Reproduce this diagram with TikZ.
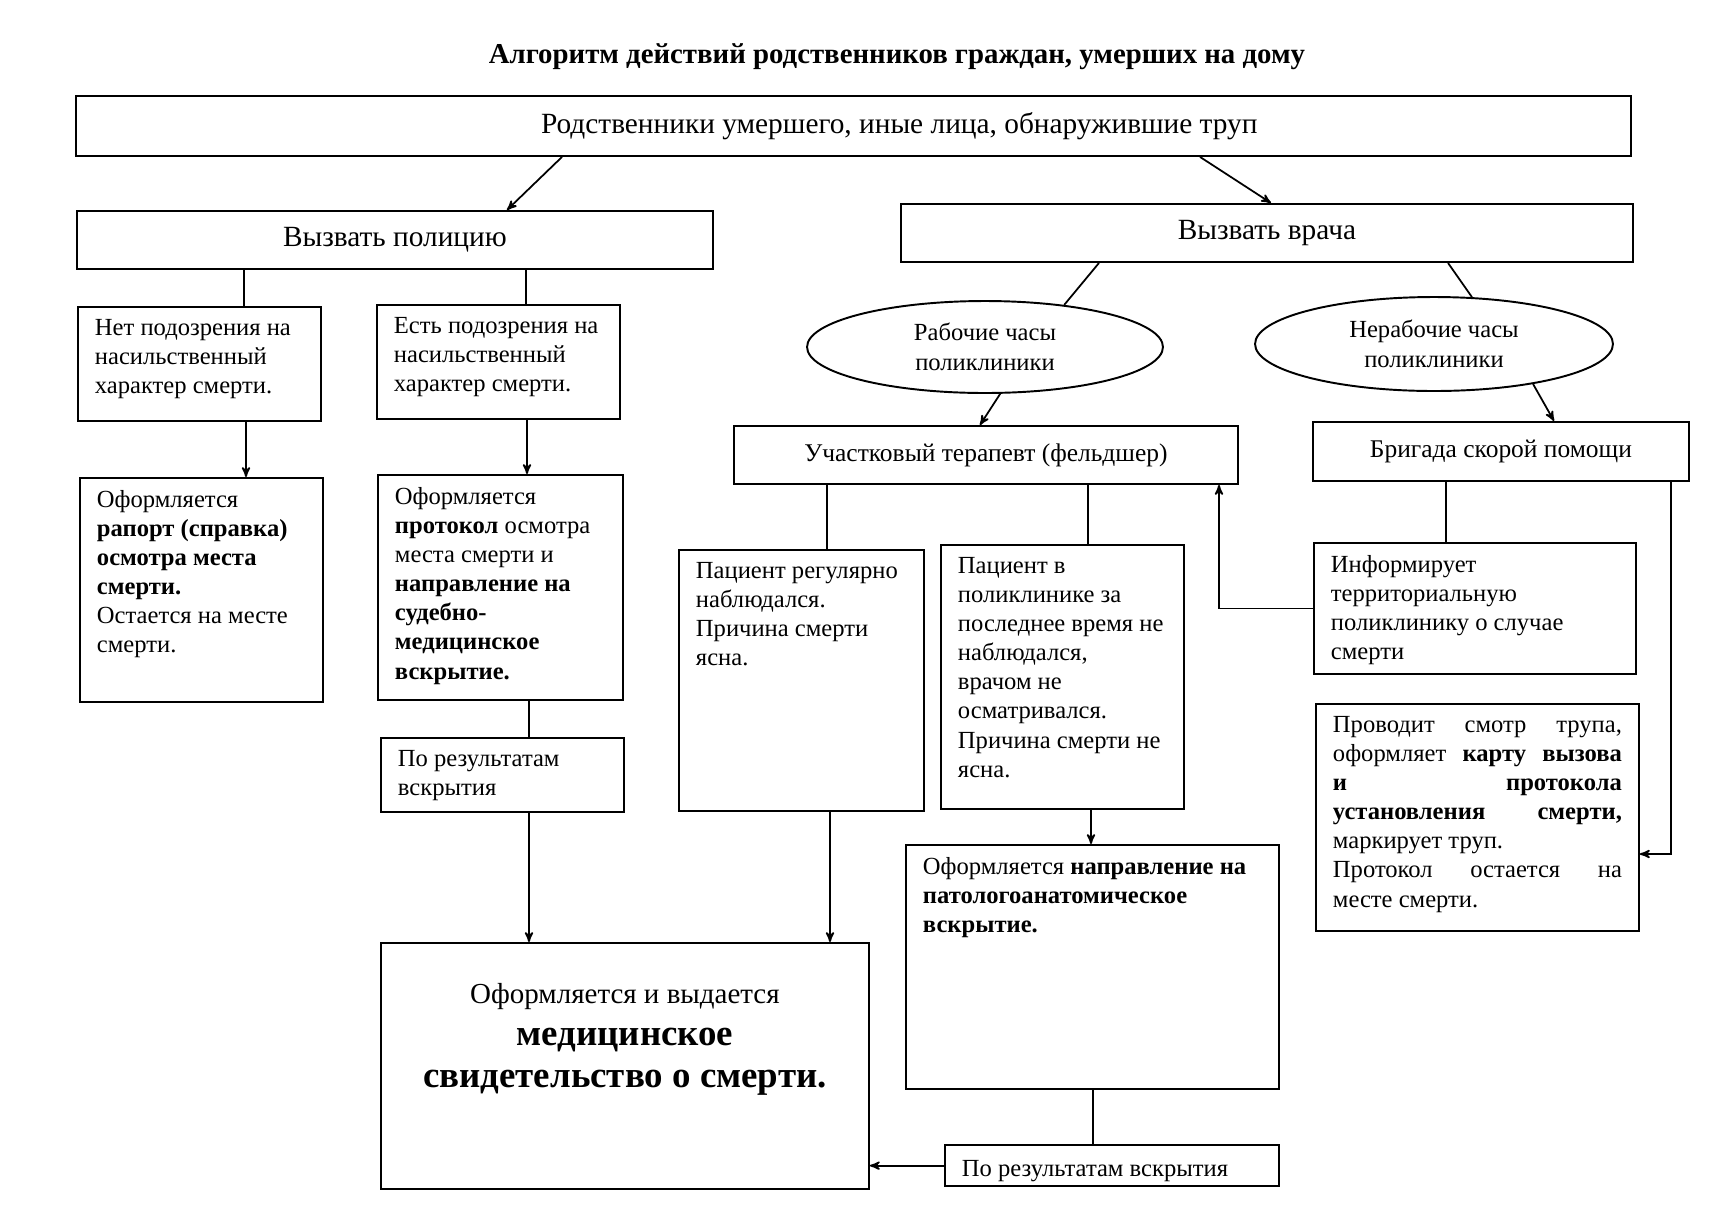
\documentclass[tikz,border=0pt]{standalone}
\usepackage{fontspec}
\setmainfont{Liberation Serif}
\usetikzlibrary{shapes}
\usetikzlibrary{arrows}

\newcommand{\boxtext}[3]{\parbox[c][#1][t]{#2}{#3}}

\begin{document}
\begin{tikzpicture}[x=0.02cm, y=-0.02cm,
  box/.style={draw, line width=1.1pt, rectangle, anchor=north west, inner xsep=0.34cm, inner ysep=0.24cm, font=\fontsize{14}{16.6}\selectfont},
  head/.style={draw, line width=1.1pt, rectangle, anchor=north west, inner sep=0pt, font=\fontsize{16.7}{19}\selectfont},
  hours/.style={draw, line width=1.1pt, ellipse, inner sep=0pt, align=center, font=\fontsize{14}{16.8}\selectfont},
  conn/.style={line width=1pt},
  arr/.style={line width=1pt, ->}]
  \tikzset{>=stealth'}

  \useasboundingbox (0,0) rectangle (1710,1208);

  %% title and top level
  \node[font=\fontsize{16.4}{19}\selectfont\bfseries] (title) at (897,57) {Алгоритм действий родственников граждан, умерших на дому};
  \node[head, minimum width=31.1cm, minimum height=1.2cm] (finders) at (75,95) {\hspace*{1.84cm}Родственники умершего, иные лица, обнаружившие труп};
  \node[head, minimum width=12.72cm, minimum height=1.16cm] (police) at (76,210) {Вызвать полицию};
  \node[head, minimum width=14.64cm, minimum height=1.16cm] (doctor) at (900,203) {Вызвать врача};

  %% police branch
  \node[box] (nosusp) at (77,306) {\boxtext{1.80cm}{4.18cm}{Нет подозрения на\\ насильственный\\ характер смерти.}};
  \node[box] (susp) at (376,304) {\boxtext{1.80cm}{4.18cm}{Есть подозрения на\\ насильственный\\ характер смерти.}};
  \node[box] (report) at (79,477) {\boxtext{4.00cm}{4.18cm}{Оформляется\\ \textbf{рапорт (справка)}\\ \textbf{осмотра места}\\ \textbf{смерти.}\\ Остается на месте\\ смерти.}};
  \node[box] (protocol) at (377,474) {\boxtext{4.02cm}{4.22cm}{Оформляется\\ \textbf{протокол} осмотра\\ места смерти и\\ \textbf{направление на}\\ \textbf{судебно-}\\ \textbf{медицинское}\\ \textbf{вскрытие.}}};
  \node[box] (autopsy1) at (380,737) {\boxtext{1.00cm}{4.18cm}{По результатам\\ вскрытия}};
  \node[box, inner ysep=0.8cm] (certificate) at (380,942) {\boxtext{3.32cm}{9.08cm}{\centering\fontsize{16.5}{19}\selectfont Оформляется и выдается\par
    {\fontsize{21}{24}\selectfont\bfseries медицинское\\ свидетельство о смерти.\par}}};

  %% doctor branch
  \node[hours, minimum width=7.12cm, minimum height=1.84cm] (workhrs) at (985,347) {Рабочие часы\\ поликлиники};
  \node[hours, minimum width=7.16cm, minimum height=1.88cm] (offhrs) at (1434,344) {Нерабочие часы\\ поликлиники};
  \node[head, minimum width=10.08cm, minimum height=1.16cm, font=\fontsize{14.5}{17}\selectfont] (therapist) at (733,425) {Участковый терапевт (фельдшер)};
  \node[head, minimum width=7.52cm, minimum height=1.18cm, font=\fontsize{14.5}{17}\selectfont] (ambulance) at (1312,421) {Бригада скорой помощи};

  \node[box] (observed) at (678,549) {\boxtext{4.74cm}{4.22cm}{Пациент регулярно\\ наблюдался.\\ Причина смерти\\ ясна.}};
  \node[box] (unobserved) at (940,544) {\boxtext{4.80cm}{4.18cm}{Пациент в\\ поликлинике за\\ последнее время не\\ наблюдался,\\ врачом не\\ осматривался.\\ Причина смерти не\\ ясна.}};
  \node[box] (referral) at (905,844) {\boxtext{4.40cm}{6.78cm}{Оформляется \textbf{направление на}\\ \textbf{патологоанатомическое}\\ \textbf{вскрытие.}}};
  \node[box, inner ysep=0.3cm] (autopsy2) at (944,1144) {\boxtext{0.2cm}{6.0cm}{По результатам вскрытия}};

  \node[box] (inform) at (1313,542) {\boxtext{2.14cm}{5.76cm}{Информирует\\ территориальную\\ поликлинику о случае\\ смерти}};
  \node[box] (examine) at (1315,703) {\boxtext{4.06cm}{5.78cm}{Проводит смотр трупа,\linebreak оформляет \textbf{карту вызова\linebreak и протокола\linebreak установления смерти,}\linebreak маркирует труп.\par Протокол остается на\linebreak месте смерти.}};

  %% connectors
  \draw[arr] (finders.south -| 562,0) -- (police.north -| 507,0);
  \draw[arr] (finders.south -| 1200,0) -- (doctor.north -| 1271,0);
  \draw[conn] (police.south -| 244,0) -- (nosusp.north -| 244,0);
  \draw[conn] (police.south -| 526,0) -- (susp.north -| 526,0);
  \draw[arr] (nosusp.south -| 246,0) -- (report.north -| 246,0);
  \draw[arr] (susp.south -| 527,0) -- (protocol.north -| 527,0);
  \draw[conn] (protocol.south -| 529,0) -- (autopsy1.north -| 529,0);
  \draw[arr] (autopsy1.south -| 529,0) -- (certificate.north -| 529,0);

  \draw[conn] (doctor.south -| 1099,0) -- (workhrs.28);
  \draw[conn] (doctor.south -| 1448,0) -- (offhrs.51);
  \draw[arr] (workhrs.-72) -- (therapist.north -| 980,0);
  \draw[arr] (offhrs.-22) -- (ambulance.north -| 1554,0);
  \draw[conn] (therapist.south -| 827,0) -- (observed.north -| 827,0);
  \draw[conn] (therapist.south -| 1088,0) -- (unobserved.north -| 1088,0);
  \draw[arr] (observed.south -| 830,0) -- (certificate.north -| 830,0);
  \draw[arr] (unobserved.south -| 1091,0) -- (referral.north -| 1091,0);
  \draw[conn] (referral.south -| 1093,0) -- (autopsy2.north -| 1093,0);
  \draw[arr] (autopsy2.west) -- (certificate.east |- autopsy2.west);

  \draw[conn] (ambulance.south -| 1446,0) -- (inform.north -| 1446,0);
  \draw[arr] (inform.west) -| (therapist.south -| 1219,0);
  \draw[arr] (ambulance.south -| 1671,0) |- (examine.east |- 0,854);
\end{tikzpicture}
\end{document}
